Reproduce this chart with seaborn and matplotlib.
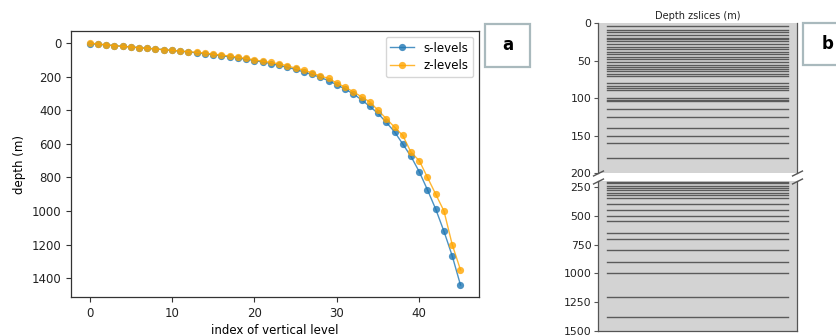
import matplotlib
matplotlib.use("Agg")
import matplotlib.pyplot as plt
import seaborn as sns
import pandas as pd
from matplotlib.patches import Rectangle

# ---- data ----
level_index = list(range(46))
s_levels = [3, 7, 11, 15, 19, 23, 27, 31, 35, 39, 44, 48, 53, 58, 63, 69, 75, 82,
            89, 96, 104, 113, 122, 133, 144, 157, 172, 187, 204, 224, 248, 274,
            302, 338, 377, 419, 472, 528, 601, 675, 766, 874, 989, 1121, 1267, 1440]
z_levels = [0, 5, 10, 15, 20, 23, 27, 31, 35, 39, 43, 47, 51, 55, 60, 66, 71, 77,
            84, 91, 100, 108, 115, 124, 135, 150, 160, 178, 196, 210, 238, 262,
            290, 320, 350, 400, 450, 500, 550, 650, 700, 800, 900, 1000, 1200, 1350]
zslices_upper = [4, 9, 12, 15, 19, 21, 24, 28, 31, 34, 38, 41, 45, 48, 52, 55, 58,
                 61, 64, 68, 70, 80, 84, 86, 89, 100, 102, 104, 114, 125, 140, 150,
                 160, 180]
zslices_lower = [208, 220, 240, 260, 280, 300, 320, 350, 400, 450, 500, 550, 650,
                 700, 800, 900, 1000, 1200, 1375]
left_xticks = [0, 10, 20, 30, 40]
left_yticks = [0, 200, 400, 600, 800, 1000, 1200, 1400]
upper_ticks = [0, 50, 100, 150, 200]
lower_ticks = [250, 500, 750, 1000, 1250, 1500]

W, H = 837, 336
fig = plt.figure(figsize=(W / 100, H / 100), dpi=100)

def fx(px):
    return px / W

def fy(py):
    return 1 - py / H

# ---- left panel ----
axL = fig.add_axes([fx(71), fy(297), fx(479 - 71), (297 - 31) / H])
df_s = pd.DataFrame({"idx": level_index, "depth": s_levels})
df_z = pd.DataFrame({"idx": level_index, "depth": z_levels})
sns.lineplot(data=df_s, x="idx", y="depth", ax=axL, color="#1f77b4", marker="o",
             markersize=5.2, markeredgewidth=0, linewidth=1, alpha=0.8,
             label="s-levels")
sns.lineplot(data=df_z, x="idx", y="depth", ax=axL, color="orange", marker="o",
             markersize=5.2, markeredgewidth=0, linewidth=1, alpha=0.8,
             label="z-levels")
axL.set_xticks(left_xticks)
axL.set_yticks(left_yticks)
axL.set_xlim(-2.25, 47.25)
axL.set_ylim(1512, -72)
axL.set_xlabel("index of vertical level", fontsize=8.5, labelpad=3)
axL.set_ylabel("depth (m)", fontsize=8.5, labelpad=4)
axL.tick_params(labelsize=8.5, length=3.5, color="#333333", labelcolor="#222222")
for sp in axL.spines.values():
    sp.set_color("#333333")
    sp.set_linewidth(0.9)
axL.legend(loc="upper right", fontsize=8.5, frameon=True, borderpad=0.4,
           handlelength=2.0, labelspacing=0.4)

# ---- boxes a / b ----
def label_box(x0, y0, x1, y1, txt, tx):
    fig.patches.append(Rectangle((fx(x0), fy(y1)), fx(x1 - x0), (y1 - y0) / H,
                                 transform=fig.transFigure, facecolor="white",
                                 edgecolor="#a9b9bd", linewidth=1.6))
    fig.text(fx(tx), fy((y0 + y1) / 2), txt, ha="center", va="center",
             fontsize=12, fontweight="bold", color="black")

label_box(485, 24, 530, 67, "a", 507.5)
label_box(803, 23, 850, 65, "b", 828)

# ---- right panels ----
gray = "#d3d3d3"
spc = "#555555"
axT = fig.add_axes([fx(598.3), fy(173.3), fx(198.4), (173.3 - 23.3) / H])
axB = fig.add_axes([fx(598.3), fy(331.3), fx(198.4), (331.3 - 181) / H])

for ax, vals, lims, ticks in ((axT, zslices_upper, (200, 0), upper_ticks),
                              (axB, zslices_lower, (1500, 200), lower_ticks)):
    ax.set_facecolor(gray)
    for v in vals:
        ax.axhline(v, xmin=0.043, xmax=0.955, color="#5a5a5a", linewidth=1.0)
    ax.set_ylim(*lims)
    ax.set_yticks(ticks)
    ax.set_xticks([])
    ax.tick_params(axis="y", labelsize=7.8, length=3, color=spc,
                   labelcolor="#222222", pad=2)
    for sp in ax.spines.values():
        sp.set_color(spc)
        sp.set_linewidth(0.9)

axT.spines["bottom"].set_visible(False)
axT.spines["top"].set_visible(False)
axB.spines["top"].set_visible(False)
axT.set_title("Depth zslices (m)", fontsize=7, pad=3, color="#222222")

kw = dict(marker=[(-1, -0.5), (1, 0.5)], markersize=8, linestyle="none",
          color=spc, mec=spc, mew=1, clip_on=False)
axT.plot([0, 1], [0, 0], transform=axT.transAxes, **kw)
axB.plot([0, 1], [1, 1], transform=axB.transAxes, **kw)

fig.savefig("out.png", dpi=100)
